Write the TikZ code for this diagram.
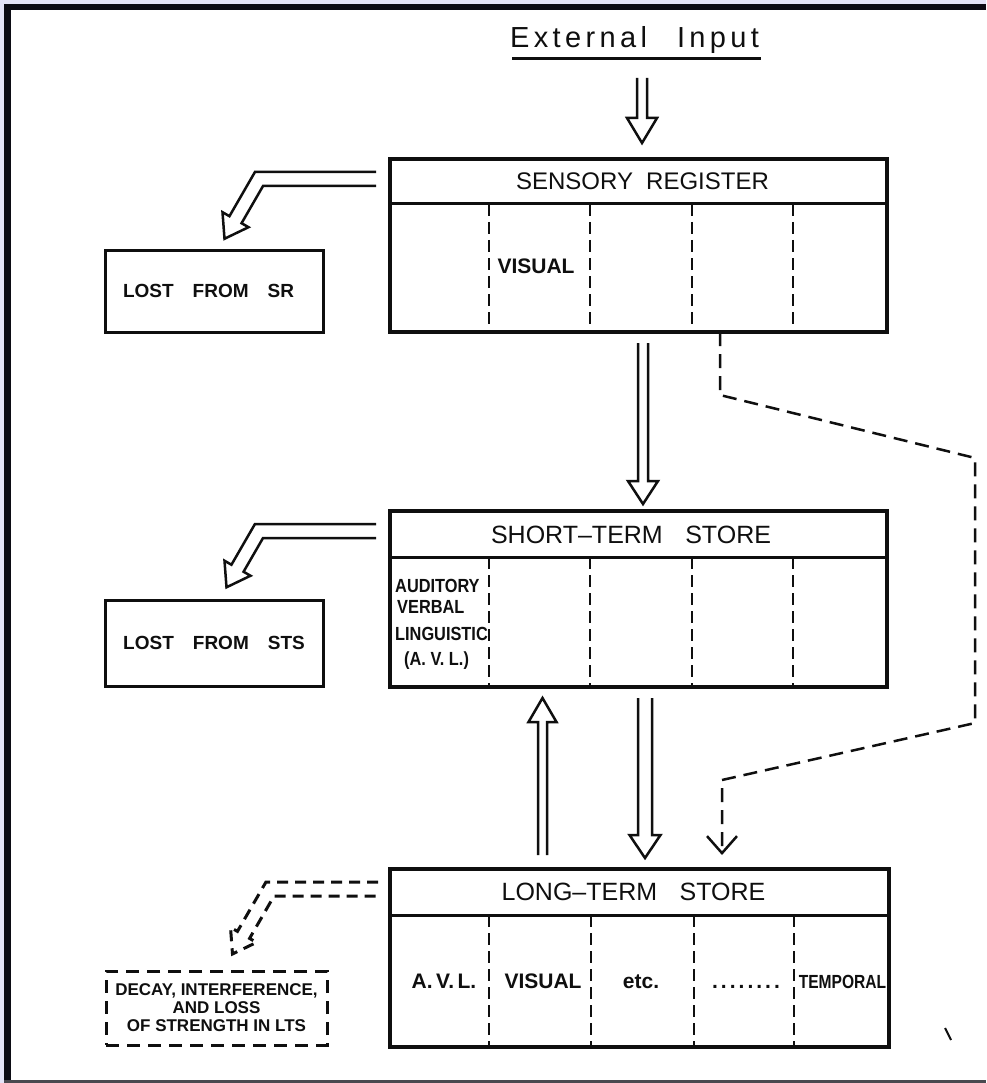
\documentclass[tikz,border=0pt]{standalone}
\usepackage{fontspec}
\usepackage{graphicx}
\setmainfont{Liberation Sans}
\newfontfamily\extfont[LetterSpace=15]{Liberation Sans}
\usetikzlibrary{calc,arrows.meta}
\definecolor{lav}{RGB}{228,228,248}
\definecolor{framec}{RGB}{12,12,20}
\definecolor{ink}{RGB}{15,15,15}
% hollow straight arrow: #1 start, #2 tip, #3 half shaft gap, #4 half head width, #5 head length (signed)
\newcommand\hollow[5]{\draw[arrowln] ($(#1)+({-(#3)},0)$) -- ($(#2)+({-(#3)},{-(#5)})$) -- ($(#2)+({-(#4)},{-(#5)})$) -- (#2) -- ($(#2)+({#4},{-(#5)})$) -- ($(#2)+({#3},{-(#5)})$) -- ($(#1)+({#3},0)$);}
% bent hollow arrow: #1 start (centre line), #2 bend, #3 diagonal length, #4 style
\newcommand\bent[4]{\draw[#4] ($(#1)+(0,-7)$) -- ($(#2)+(-4.04,-7)$)
  -- ($(#2)+({-0.5*(#3)-6.06},{0.866*(#3)-3.5})$)
  -- ($(#2)+({-0.5*(#3)-13},{0.866*(#3)-7.5})$)
  -- ($(#2)+({-0.5*(#3)-11},{0.866*(#3)+19.05})$)
  -- ($(#2)+({-0.5*(#3)+13},{0.866*(#3)+7.5})$)
  -- ($(#2)+({-0.5*(#3)+6.06},{0.866*(#3)+3.5})$)
  -- ($(#2)+(4.04,7)$) -- ($(#1)+(0,7)$);}
\newcommand\dotrow{.\kern3pt.\kern3pt.\kern3pt.\kern3pt.\kern3pt.\kern3pt.\kern3pt.}
\begin{document}
\begin{tikzpicture}[x=1pt,y=-1pt,
  mainbox/.style={draw=ink, line width=4pt, inner sep=0pt, outer sep=0pt, anchor=north west},
  lostbox/.style={draw=ink, line width=3pt, inner sep=0pt, outer sep=0pt, anchor=north west, text=ink, font=\bfseries\fontsize{19}{23}\selectfont},
  hdr/.style={font=\fontsize{25}{30}\selectfont, inner sep=0pt, anchor=base, text=ink},
  cell/.style={font=\bfseries\fontsize{21}{25}\selectfont, inner sep=0pt, anchor=base, text=ink},
  cellsm/.style={font=\bfseries\fontsize{19}{23}\selectfont, inner sep=0pt, anchor=base west, text=ink},
  divider/.style={draw=ink, line width=2.5pt, dash pattern=on 12pt off 6pt},
  sepline/.style={draw=ink, line width=3pt},
  arrowln/.style={draw=ink, line width=2.5pt, line join=miter},
  dasharrow/.style={draw=ink, line width=3pt, line join=miter, dash pattern=on 11pt off 7pt},
  route/.style={draw=ink, line width=2.5pt, dash pattern=on 14pt off 8pt}]
\useasboundingbox (0,0) rectangle (986,1083);
% frame
\fill[lav] (0,0) rectangle (986,1083);
\fill[white] (4,4) rectangle (986,1083);
\fill[framec] (4,4) rectangle (986,10);
\fill[framec] (4,4) rectangle (11,1083);
\fill[framec!75] (4,1080) rectangle (986,1083);

% title
\node[font=\extfont\fontsize{29}{33}\selectfont, inner sep=0pt, anchor=base west, text=ink] (ext) at (510,48) {External\hspace{30pt}Input};
\draw[ink, line width=3pt] ([shift={(2pt,-11pt)}]ext.base west) -- ([shift={(2pt,-11pt)}]ext.base east);

% main boxes
\node[mainbox, minimum width=497pt, minimum height=173pt] (SR) at (390,159) {};
\node[mainbox, minimum width=497pt, minimum height=176pt] (STS) at (390,511) {};
\node[mainbox, minimum width=499pt, minimum height=178pt] (LTS) at (390,869) {};
\draw[sepline] ([yshift=-45pt]SR.north west) -- ([yshift=-45pt]SR.north east);
\draw[sepline] ([yshift=-46pt]STS.north west) -- ([yshift=-46pt]STS.north east);
\draw[sepline] ([yshift=-46pt]LTS.north west) -- ([yshift=-46pt]LTS.north east);
\foreach \dx in {99,200,302,403} {
  \draw[divider] ([shift={(\dx pt,-45pt)}]SR.north west) -- ([xshift=\dx pt]SR.south west);
  \draw[divider] ([shift={(\dx pt,-46pt)}]STS.north west) -- ([xshift=\dx pt]STS.south west);
}
\foreach \dx in {99,201,304,404} {
  \draw[divider] ([shift={(\dx pt,-46pt)}]LTS.north west) -- ([xshift=\dx pt]LTS.south west);
}

% headers
\node[hdr, font=\fontsize{24}{28}\selectfont] (srT) at (642.5,190) {SENSORY\hspace{0.55em}REGISTER};
\node[hdr] (stsT) at (631,543) {SHORT–TERM\hspace{0.9em}STORE};
\node[hdr] (ltsT) at (633.5,900) {LONG–TERM\hspace{0.9em}STORE};

% compartment labels
\node[cell] (srVis) at (536,273) {VISUAL};
\node[cellsm] (avl1) at (395,592) {\scalebox{0.86}[1]{AUDITORY}};
\node[cellsm] (avl2) at (397,613) {\scalebox{0.86}[1]{VERBAL}};
\node[cellsm] (avl3) at (395,640) {\scalebox{0.86}[1]{LINGUISTIC}};
\node[cellsm] (avl4) at (404,665) {\scalebox{0.86}[1]{(A. V. L.)}};
\node[cell] (lAVL) at (444,988) {A.\,V.\,L.};
\node[cell] (lVis) at (543,988) {VISUAL};
\node[cell] (lEtc) at (641,988) {etc.};
\node[cell] (lDots) at (746,988) {\dotrow};
\node[cell, font=\bfseries\fontsize{19}{23}\selectfont] (lTemp) at (842.5,988) {\scalebox{0.82}[1]{TEMPORAL}};

% lost boxes
\node[lostbox, minimum width=218pt, minimum height=82pt] (lostSR) at (105,250) {LOST\hspace{1em}FROM\hspace{1em}SR\hspace*{11pt}};
\node[lostbox, minimum width=218pt, minimum height=86pt] (lostSTS) at (105,600) {LOST\hspace{1em}FROM\hspace{1em}STS};
\node[lostbox, dash pattern=on 13pt off 8pt, minimum width=221pt, minimum height=74pt, align=center, font=\bfseries\fontsize{17}{18}\selectfont] (decay) at (106,971) {DECAY, INTERFERENCE,\\AND LOSS\\OF STRENGTH IN LTS};

% bent arrows to the lost boxes
\coordinate (srOut) at ([shift={(-14pt,-20pt)}]SR.north west);
\coordinate (srBend) at ([xshift=-117pt]srOut);
\bent{srOut}{srBend}{47}{arrowln}
\coordinate (stsOut) at ([shift={(-14pt,-20pt)}]STS.north west);
\coordinate (stsBend) at ([xshift=-117pt]stsOut);
\bent{stsOut}{stsBend}{43}{arrowln}
\coordinate (ltsOut) at ([shift={(-12pt,-20pt)}]LTS.north west);
\coordinate (ltsBend) at ([xshift=-108pt]ltsOut);
\bent{ltsOut}{ltsBend}{53}{dasharrow}

% straight hollow arrows
\coordinate (inTop) at (642,78);
\coordinate (inTip) at ([shift={(3.5pt,16pt)}]SR.north);
\hollow{inTop}{inTip}{5}{15}{25}
\coordinate (s1a) at ([shift={(4.5pt,-11pt)}]SR.south);
\coordinate (s1b) at ([shift={(4.5pt,7pt)}]STS.north);
\hollow{s1a}{s1b}{5}{15}{23}
\coordinate (s2a) at ([shift={(6.5pt,-11pt)}]STS.south);
\coordinate (s2b) at ([shift={(5.5pt,11pt)}]LTS.north);
\hollow{s2a}{s2b}{7}{15.5}{23}
\coordinate (s3a) at ([shift={(-97pt,14pt)}]LTS.north);
\coordinate (s3b) at ([shift={(-96pt,-11pt)}]STS.south);
\hollow{s3a}{s3b}{4.5}{14}{-24}

% dashed route SR -> LTS
\coordinate (dStart) at ([xshift=81.5pt]SR.south);
\coordinate (dTip) at ([shift={(82.5pt,14pt)}]LTS.north);
\draw[route, -{Straight Barb[length=17pt,width=30pt]}] (dStart) -- (720,395) -- (975,458) -- (975,723) -- (722,780) -- (dTip);

% speck
\draw[ink, line width=2pt] (945,1028) -- (951,1040);
\end{tikzpicture}
\end{document}
